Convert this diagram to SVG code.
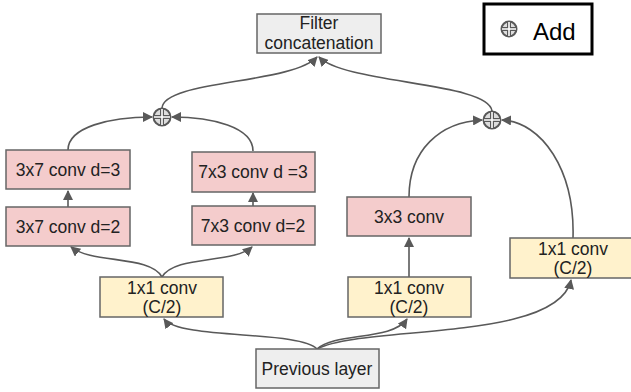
<svg xmlns="http://www.w3.org/2000/svg" width="631" height="392" viewBox="0 0 631 392">
  <style>
    .box { stroke: #666666; stroke-width: 1.5; }
    .gray { fill: #eeeeee; }
    .red { fill: #f4cccc; }
    .yel { fill: #fff2cc; }
    .lbl { font-family: "Liberation Sans", Arial, sans-serif; font-size: 17.5px; fill: #222222; text-anchor: middle; }
    .edge { fill: none; stroke: #595959; stroke-width: 1.6; marker-end: url(#arrow); }
    .addc { fill: #dddddd; stroke: #595959; stroke-width: 2; }
    .plusd { stroke: #595959; stroke-width: 4; }
    .plusl { stroke: #ffffff; stroke-width: 1.6; }
  </style>
  <defs>
    <marker id="arrow" viewBox="0 0 10 10" refX="9" refY="5" markerWidth="10" markerHeight="10" markerUnits="userSpaceOnUse" orient="auto">
      <path d="M0,0 L10,5 L0,10 Z" fill="#595959"/>
    </marker>
  </defs>

  <!-- connectors -->
  <g id="connectors">
    <path class="edge" d="M162,108 C164,80 292,84 317,57"/>
    <path class="edge" d="M492,111 C489,82 345,84 319,57"/>
    <path class="edge" d="M68,150 C68,127 110,117 152,117"/>
    <path class="edge" d="M253,151 C253,127 212,117 172,117"/>
    <path class="edge" d="M68,207 L68,191"/>
    <path class="edge" d="M253,206 L253,193"/>
    <path class="edge" d="M162,277 C150,255 92,264 71,247"/>
    <path class="edge" d="M162,277 C175,255 233,264 252,247"/>
    <path class="edge" d="M317,349 C300,330 180,340 164,319"/>
    <path class="edge" d="M317,349 C335,332 392,341 407,319"/>
    <path class="edge" d="M317,349 C362,325 558,342 571,280"/>
    <path class="edge" d="M409,277 L409,238"/>
    <path class="edge" d="M409,197 C409,150 440,122 482,120"/>
    <path class="edge" d="M573,238 C575,170 542,122 502,120"/>
  </g>

  <g id="filter-concat">
    <rect class="box gray" x="257" y="14" width="124" height="39"/>
    <text class="lbl" x="319" y="29">Filter</text>
    <text class="lbl" x="319" y="49">concatenation</text>
  </g>

  <g id="legend">
    <rect x="484" y="4" width="108" height="50" fill="#ffffff" stroke="#000000" stroke-width="3"/>
    <circle class="addc" cx="509" cy="29" r="7.5"/>
    <path class="plusd" d="M502,29 H516 M509,22 V36"/>
    <path class="plusl" d="M502,29 H516 M509,22 V36"/>
    <text x="533" y="40" font-family="'Liberation Sans', Arial, sans-serif" font-size="24" fill="#000000">Add</text>
  </g>

  <g id="add-left">
    <circle class="addc" cx="162" cy="117" r="8.5"/>
    <path class="plusd" d="M154,117 H170 M162,109 V125"/>
    <path class="plusl" d="M154,117 H170 M162,109 V125"/>
  </g>

  <g id="add-right">
    <circle class="addc" cx="492" cy="120" r="8.5"/>
    <path class="plusd" d="M484,120 H500 M492,112 V128"/>
    <path class="plusl" d="M484,120 H500 M492,112 V128"/>
  </g>

  <g id="conv3x7-d3">
    <rect class="box red" x="6" y="150" width="124" height="39"/>
    <text class="lbl" x="68" y="176">3x7 conv d=3</text>
  </g>

  <g id="conv7x3-d3">
    <rect class="box red" x="192" y="152" width="123" height="40"/>
    <text class="lbl" x="253" y="178">7x3 conv d =3</text>
  </g>

  <g id="conv3x7-d2">
    <rect class="box red" x="6" y="207" width="124" height="39"/>
    <text class="lbl" x="68" y="233">3x7 conv d=2</text>
  </g>

  <g id="conv7x3-d2">
    <rect class="box red" x="192" y="206" width="123" height="39"/>
    <text class="lbl" x="253" y="232">7x3 conv d=2</text>
  </g>

  <g id="conv1x1-left">
    <rect class="box yel" x="100" y="277" width="123" height="40"/>
    <text class="lbl" x="162" y="294">1x1 conv</text>
    <text class="lbl" x="162" y="313">(C/2)</text>
  </g>

  <g id="conv3x3">
    <rect class="box red" x="347" y="197" width="124" height="39"/>
    <text class="lbl" x="409" y="223">3x3 conv</text>
  </g>

  <g id="conv1x1-mid">
    <rect class="box yel" x="348" y="277" width="123" height="40"/>
    <text class="lbl" x="409" y="294">1x1 conv</text>
    <text class="lbl" x="409" y="313">(C/2)</text>
  </g>

  <g id="conv1x1-right">
    <rect class="box yel" x="510" y="238" width="126" height="40"/>
    <text class="lbl" x="573" y="255">1x1 conv</text>
    <text class="lbl" x="573" y="274">(C/2)</text>
  </g>

  <g id="previous-layer">
    <rect class="box gray" x="256" y="349" width="123" height="39"/>
    <text class="lbl" x="317" y="375">Previous layer</text>
  </g>
</svg>
